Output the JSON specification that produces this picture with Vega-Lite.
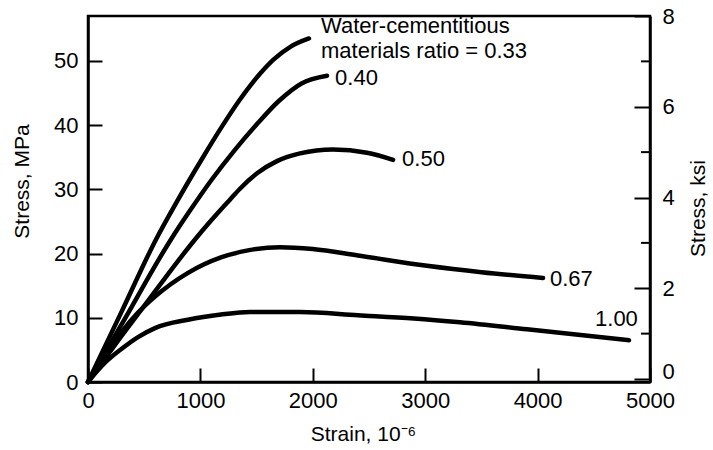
{
  "$schema": "https://vega.github.io/schema/vega-lite/v6.json",
  "width": 562,
  "height": 366,
  "autosize": {"type": "none"},
  "padding": {"left": 88, "top": 16, "right": 63, "bottom": 68},
  "background": "white",
  "config": {
    "font": "Liberation Sans",
    "view": {"stroke": "black", "strokeWidth": 2.5},
    "axis": {
      "domainColor": "black", "domainWidth": 2.5,
      "tickColor": "black", "tickWidth": 2,
      "labelColor": "black", "titleColor": "black",
      "labelFontSize": 22, "titleFontSize": 21, "titleFontWeight": "normal",
      "labelFont": "Liberation Sans", "titleFont": "Liberation Sans",
      "grid": false, "labelFlush": false, "labelOverlap": false
    }
  },
  "datasets": {
    "curves": [
      {"wc": "0.33", "strain": 0, "stress": 0},
      {"wc": "0.33", "strain": 300, "stress": 11.0},
      {"wc": "0.33", "strain": 605, "stress": 22.2},
      {"wc": "0.33", "strain": 801, "stress": 28.4},
      {"wc": "0.33", "strain": 1023, "stress": 35.0},
      {"wc": "0.33", "strain": 1174, "stress": 39.3},
      {"wc": "0.33", "strain": 1352, "stress": 44.0},
      {"wc": "0.33", "strain": 1530, "stress": 48.0},
      {"wc": "0.33", "strain": 1650, "stress": 50.2},
      {"wc": "0.33", "strain": 1800, "stress": 52.2},
      {"wc": "0.33", "strain": 1966, "stress": 53.5},
      {"wc": "0.40", "strain": 0, "stress": 0},
      {"wc": "0.40", "strain": 300, "stress": 9.0},
      {"wc": "0.40", "strain": 738, "stress": 22.2},
      {"wc": "0.40", "strain": 900, "stress": 26.5},
      {"wc": "0.40", "strain": 1100, "stress": 31.5},
      {"wc": "0.40", "strain": 1300, "stress": 36.0},
      {"wc": "0.40", "strain": 1500, "stress": 40.1},
      {"wc": "0.40", "strain": 1700, "stress": 43.8},
      {"wc": "0.40", "strain": 1900, "stress": 46.5},
      {"wc": "0.40", "strain": 2126, "stress": 47.7},
      {"wc": "0.50", "strain": 0, "stress": 0},
      {"wc": "0.50", "strain": 300, "stress": 7.2},
      {"wc": "0.50", "strain": 600, "stress": 14.2},
      {"wc": "0.50", "strain": 952, "stress": 22.2},
      {"wc": "0.50", "strain": 1068, "stress": 24.6},
      {"wc": "0.50", "strain": 1263, "stress": 28.4},
      {"wc": "0.50", "strain": 1352, "stress": 30.1},
      {"wc": "0.50", "strain": 1504, "stress": 32.5},
      {"wc": "0.50", "strain": 1681, "stress": 34.4},
      {"wc": "0.50", "strain": 1886, "stress": 35.6},
      {"wc": "0.50", "strain": 2180, "stress": 36.2},
      {"wc": "0.50", "strain": 2482, "stress": 35.7},
      {"wc": "0.50", "strain": 2714, "stress": 34.6},
      {"wc": "0.67", "strain": 0, "stress": 0},
      {"wc": "0.67", "strain": 150, "stress": 4.2},
      {"wc": "0.67", "strain": 294, "stress": 7.7},
      {"wc": "0.67", "strain": 445, "stress": 10.8},
      {"wc": "0.67", "strain": 596, "stress": 13.3},
      {"wc": "0.67", "strain": 890, "stress": 17.0},
      {"wc": "0.67", "strain": 1183, "stress": 19.4},
      {"wc": "0.67", "strain": 1423, "stress": 20.5},
      {"wc": "0.67", "strain": 1708, "stress": 21.0},
      {"wc": "0.67", "strain": 2000, "stress": 20.7},
      {"wc": "0.67", "strain": 2402, "stress": 19.7},
      {"wc": "0.67", "strain": 3016, "stress": 18.1},
      {"wc": "0.67", "strain": 3500, "stress": 17.1},
      {"wc": "0.67", "strain": 4048, "stress": 16.2},
      {"wc": "1.00", "strain": 0, "stress": 0},
      {"wc": "1.00", "strain": 151, "stress": 3.0},
      {"wc": "1.00", "strain": 294, "stress": 5.1},
      {"wc": "1.00", "strain": 445, "stress": 7.0},
      {"wc": "1.00", "strain": 596, "stress": 8.4},
      {"wc": "1.00", "strain": 890, "stress": 9.7},
      {"wc": "1.00", "strain": 1183, "stress": 10.5},
      {"wc": "1.00", "strain": 1441, "stress": 10.9},
      {"wc": "1.00", "strain": 1886, "stress": 10.9},
      {"wc": "1.00", "strain": 2402, "stress": 10.4},
      {"wc": "1.00", "strain": 2900, "stress": 9.9},
      {"wc": "1.00", "strain": 3310, "stress": 9.3},
      {"wc": "1.00", "strain": 3906, "stress": 8.2},
      {"wc": "1.00", "strain": 4813, "stress": 6.5}
    ],
    "labels": [
      {"label": "Water-cementitious", "strain": 2073, "stress": 54.4},
      {"label": "materials ratio = 0.33", "strain": 2073, "stress": 50.4},
      {"label": "0.40", "strain": 2198, "stress": 46.3},
      {"label": "0.50", "strain": 2794, "stress": 33.6},
      {"label": "0.67", "strain": 4110, "stress": 14.9},
      {"label": "1.00", "strain": 4511, "stress": 8.7}
    ],
    "ksiMajor": [{"ksi": 0}, {"ksi": 8}],
    "ksiMinor": [{"ksi": 1}, {"ksi": 3}, {"ksi": 5}, {"ksi": 7}]
  },
  "layer": [
    {
      "layer": [
        {
          "data": {"name": "curves"},
          "mark": {"type": "line", "interpolate": "monotone", "color": "black", "strokeWidth": 4.5, "strokeCap": "round"},
          "encoding": {
            "x": {
              "field": "strain", "type": "quantitative",
              "scale": {"domain": [0, 5000], "nice": false, "zero": false},
              "axis": {
                "title": "Strain, 10⁻⁶", "values": [0, 1000, 2000, 3000, 4000, 5000], "format": "d",
                "tickSize": -14, "labelPadding": 22,
                "titleX": 275, "titleY": 52, "titleBaseline": "middle", "titleAlign": "center"
              }
            },
            "y": {
              "field": "stress", "type": "quantitative",
              "scale": {"domain": [0, 57], "nice": false},
              "axis": {
                "title": "Stress, MPa", "values": [0, 10, 20, 30, 40, 50], "format": "d",
                "tickSize": -14, "labelPadding": 24,
                "titleAngle": -90, "titleX": -66, "titleY": 165, "titleBaseline": "middle", "titleAlign": "center"
              }
            },
            "detail": {"field": "wc", "type": "nominal"}
          }
        },
        {
          "data": {"name": "labels"},
          "mark": {"type": "text", "align": "left", "baseline": "alphabetic", "fontSize": 22, "color": "black", "font": "Liberation Sans"},
          "encoding": {
            "x": {"field": "strain", "type": "quantitative"},
            "y": {"field": "stress", "type": "quantitative"},
            "text": {"field": "label"}
          }
        }
      ]
    },
    {
      "layer": [
        {
          "data": {"name": "ksiMajor"},
          "mark": {"type": "point", "opacity": 0},
          "encoding": {
            "y": {
              "field": "ksi", "type": "quantitative",
              "scale": {"domain": [-0.066, 8], "nice": false, "zero": false},
              "axis": {
                "orient": "right", "title": "Stress, ksi", "values": [0, 2, 4, 6, 8], "format": "d",
                "tickSize": -16, "labelPadding": 28,
                "labelOffset": {"condition": {"test": "datum.value === 0", "value": -8}, "value": 0},
                "titleAngle": -90, "titleX": 48, "titleY": 192, "titleBaseline": "middle", "titleAlign": "center"
              }
            }
          }
        },
        {
          "data": {"name": "ksiMinor"},
          "mark": {"type": "rule", "color": "black", "strokeWidth": 2},
          "encoding": {
            "y": {"field": "ksi", "type": "quantitative"},
            "x": {"datum": 4920},
            "x2": {"datum": 5000}
          }
        }
      ]
    }
  ],
  "resolve": {"scale": {"y": "independent"}, "axis": {"y": "independent"}}
}
